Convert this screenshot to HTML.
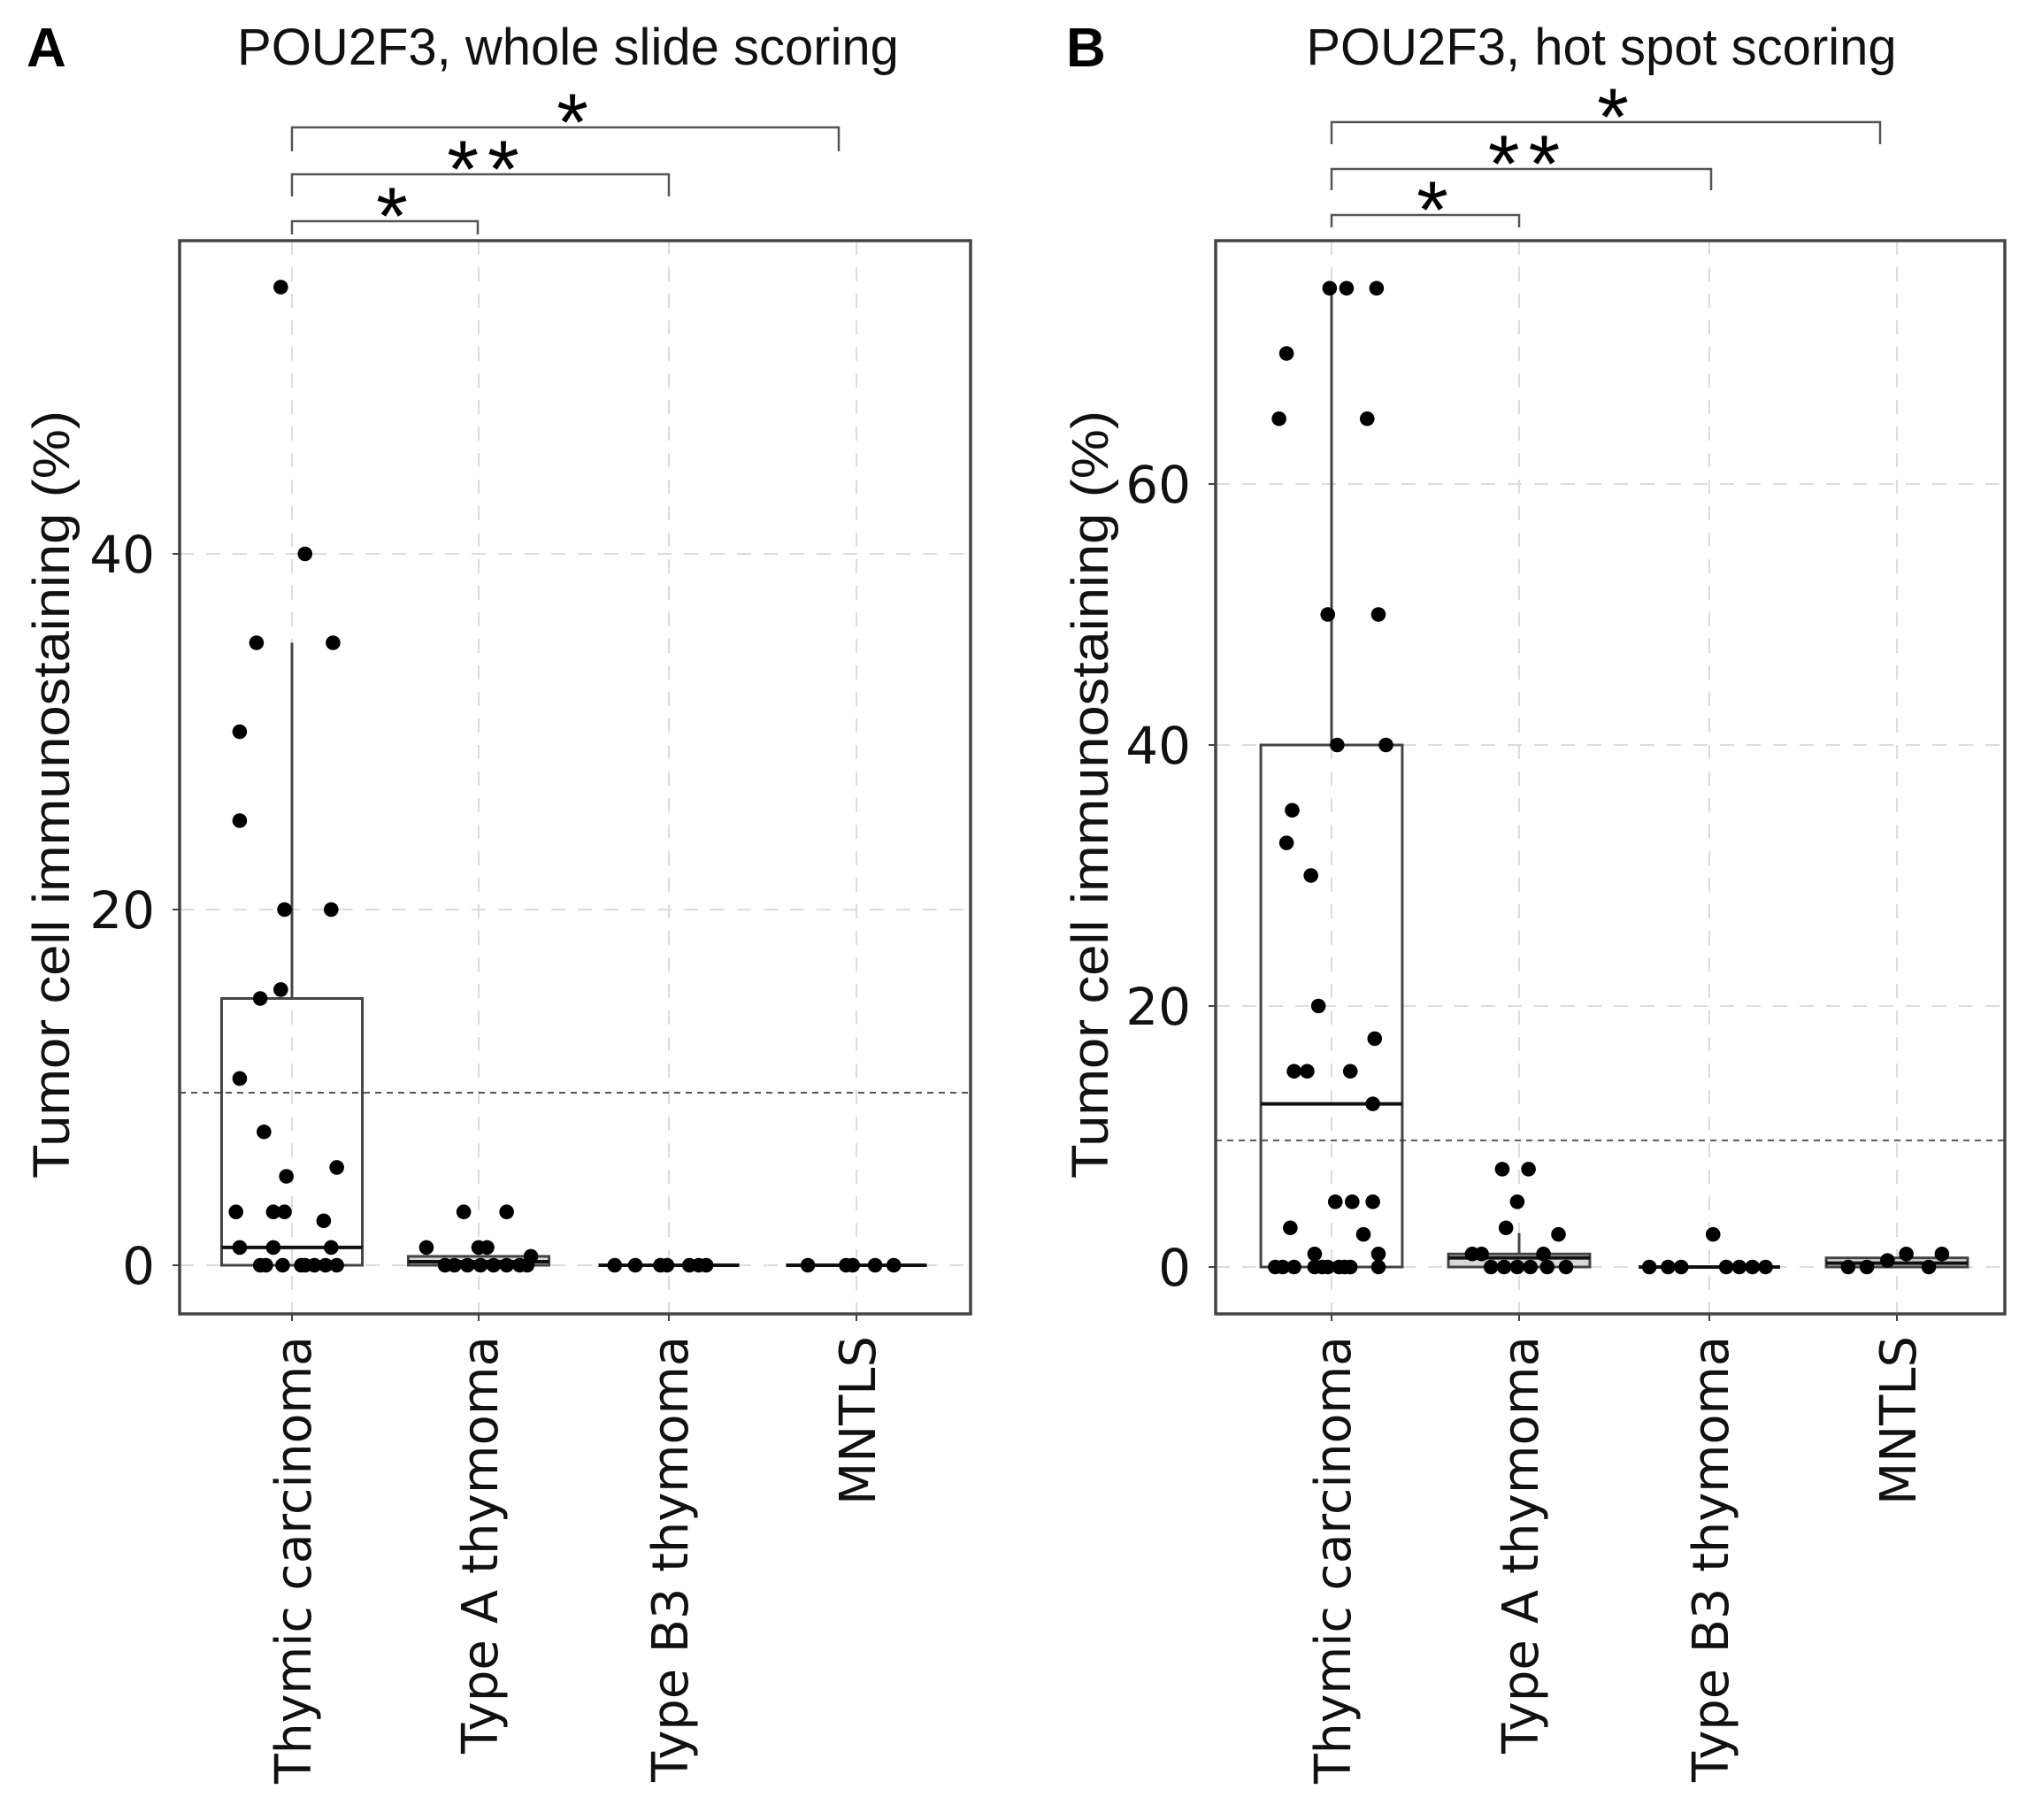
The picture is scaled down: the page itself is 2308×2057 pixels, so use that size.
<!DOCTYPE html>
<html><head><meta charset="utf-8"><style>
html,body{margin:0;padding:0;background:#fff;}
svg{display:block;}
</style></head><body>
<svg id="chart" width="2308" height="2057" viewBox="0 0 2308 2057" xmlns="http://www.w3.org/2000/svg"></svg>
<script>
// ---- data ----
const categories = ["Thymic carcinoma", "Type A thymoma", "Type B3 thymoma", "MNTLS"];
const yTicksA = [0, 20, 40];
const yTicksB = [0, 20, 40, 60];
const thresholdA = 9.7;
const thresholdB = 9.7;

// Panel A values (per category) and jitter (fraction of category spacing)
const aThymicVals = [55,40,35,35,30,25,20,20,15.5,15,10.5,7.5,5.5,5,3,3,3,2.5,1,1,1,0,0,0,0,0,0,0,0];
const aThymicJit  = [-0.06,0.07,-0.19,0.22,-0.28,-0.28,-0.04,0.21,-0.06,-0.17,-0.28,-0.15,0.24,-0.03,-0.30,-0.10,-0.04,0.17,-0.28,-0.10,0.21,-0.17,-0.14,-0.05,0.05,0.07,0.12,0.18,0.24];
const aTypeAVals = [3,3,1,1,1,0.5,0,0,0,0,0,0,0,0];
const aTypeAJit  = [-0.08,0.15,-0.28,0,0.045,0.28,-0.18,-0.13,-0.06,0.01,0.08,0.15,0.22,0.26];
const aTypeB3Vals = [0,0,0,0,0,0,0];
const aTypeB3Jit  = [-0.29,-0.18,-0.045,-0.01,0.11,0.16,0.2];
const aMntlsVals = [0,0,0,0,0];
const aMntlsJit  = [-0.26,-0.055,-0.02,0.1,0.2];
// box stats: [q1, median, q3, whiskerLow, whiskerHigh]
const aBoxes = [[0,1,15,0,35],[0,0.2,0.5,0,0.5],[0,0,0,0,0],[0,0,0,0,0]];

// Panel B
const bThymicVals = [75,75,75,70,65,65,50,50,40,40,35,32.5,30,20,17.5,15,15,15,12.5,5,5,5,3,2.5,1,1,0,0,0,0,0,0,0,0,0,0];
const bThymicJit  = [-0.01,0.08,0.24,-0.24,-0.28,0.19,-0.02,0.25,0.03,0.29,-0.21,-0.24,-0.11,-0.07,0.23,-0.2,-0.13,0.1,0.22,0.02,0.11,0.22,-0.22,0.17,-0.09,0.25,-0.3,-0.26,-0.2,-0.09,-0.05,-0.02,0.04,0.07,0.1,0.25];
const bTypeAVals = [7.5,7.5,5,3,2.5,1,1,1,0,0,0,0,0,0];
const bTypeAJit  = [-0.09,0.05,-0.01,-0.07,0.21,-0.25,-0.2,0.13,-0.15,-0.08,-0.01,0.06,0.15,0.25];
const bTypeB3Vals = [2.5,0,0,0,0,0,0,0];
const bTypeB3Jit  = [0.02,-0.32,-0.22,-0.15,0.09,0.16,0.23,0.3];
const bMntlsVals = [0,0,0.5,1,1,0];
const bMntlsJit  = [-0.26,-0.16,-0.05,0.05,0.24,0.17];
const bBoxes = [[0,12.5,40,0,75],[0,0.7,1,0,2.6],[0,0,0,0,0],[0,0.3,0.7,0,0.7]];

// significance brackets: [fromCat, toCat, label]
const sigBrackets = [[0,1,"*"],[0,2,"**"],[0,3,"*"]];

// ---- drawing ----
const NS = "http://www.w3.org/2000/svg";
const svg = document.getElementById("chart");
function el(tag, attrs, parent, text){
  const e = document.createElementNS(NS, tag);
  for (const k in attrs) e.setAttribute(k, attrs[k]);
  if (text !== undefined) e.textContent = text;
  (parent || svg).appendChild(e);
  return e;
}

const panels = [
  {key:"a", letter:"A", letterX:30, title:"POU2F3, whole slide scoring", titleX:642,
   L:203, R:1097, T:272, B:1485, y0px:1430, perUnit:20.1, yTicks:yTicksA, threshold:thresholdA,
   cx:[330,541,756,968], vals:[aThymicVals,aTypeAVals,aTypeB3Vals,aMntlsVals],
   jit:[aThymicJit,aTypeAJit,aTypeB3Jit,aMntlsJit], boxes:aBoxes,
   br:[{y:250,drop:15,r:540},{y:197,drop:25,r:756},{y:144,drop:27,r:948}],
   ytitleX:58},
  {key:"b", letter:"B", letterX:1205, title:"POU2F3, hot spot scoring", titleX:1810,
   L:1374, R:2266, T:272, B:1485, y0px:1432, perUnit:14.75, yTicks:yTicksB, threshold:thresholdB,
   cx:[1505,1717,1932,2144], vals:[bThymicVals,bTypeAVals,bTypeB3Vals,bMntlsVals],
   jit:[bThymicJit,bTypeAJit,bTypeB3Jit,bMntlsJit], boxes:bBoxes,
   br:[{y:243,drop:14,r:1717},{y:191,drop:24,r:1934},{y:138,drop:25,r:2125}],
   ytitleX:1232}
];

panels.forEach(p => {
  const g = el("g", {});
  
  
  const ys = v => p.y0px - v * p.perUnit;
  const spacing = p.cx[1] - p.cx[0];

  const lt = el("text", {x:p.letterX, y:75, "font-family":"Liberation Sans, sans-serif", "font-size":62, "font-weight":"bold", fill:"#000"}, g, p.letter);
  
  
  const tt = el("text", {x:p.titleX, y:73, "text-anchor":"middle", "font-family":"Liberation Sans, sans-serif", "font-size":58, fill:"#111"}, g, p.title);
  
  

  // gridlines
  p.yTicks.forEach(t => {
    const gl = el("line", {x1:p.L, x2:p.R, y1:ys(t), y2:ys(t), stroke:"#dcdcdc", "stroke-width":2, "stroke-dasharray":"16,14"}, g);
    
    
  });
  p.cx.forEach(x => {
    const gl = el("line", {x1:x, x2:x, y1:p.T, y2:p.B, stroke:"#dcdcdc", "stroke-width":2, "stroke-dasharray":"16,14"}, g);
    
    
  });

  // threshold
  const th = el("line", {x1:p.L, x2:p.R, y1:ys(p.threshold), y2:ys(p.threshold), stroke:"#555", "stroke-width":2, "stroke-dasharray":"7,6"}, g);
  
  

  // boxes
  p.boxes.forEach((b, i) => {
    const x = p.cx[i], hw = 0.377 * spacing;
    const bg = el("g", {}, g);
    
    
    el("line", {x1:x, x2:x, y1:ys(b[2]), y2:ys(b[4]), stroke:"#444", "stroke-width":3}, bg);
    el("line", {x1:x, x2:x, y1:ys(b[0]), y2:ys(b[3]), stroke:"#444", "stroke-width":3}, bg);
    const h = Math.max(ys(b[0]) - ys(b[2]), 0);
    el("rect", {x:x-hw, y:ys(b[2]), width:2*hw, height:h, fill:h>0 && h<20 ? "#d8d8d8" : "none", stroke:"#444", "stroke-width":3}, bg);
    el("line", {x1:x-hw, x2:x+hw, y1:ys(b[1]), y2:ys(b[1]), stroke:"#111", "stroke-width":4}, bg);
  });

  // points
  p.vals.forEach((arr, i) => {
    arr.forEach((v, j) => {
      const c = el("circle", {cx:p.cx[i] + p.jit[i][j] * spacing, cy:ys(v), r:8.3, fill:"#000"}, g);
      
      
    });
  });

  // frame
  const fr = el("rect", {x:p.L, y:p.T, width:p.R-p.L, height:p.B-p.T, fill:"none", stroke:"#444", "stroke-width":3.5}, g);
  
  

  // y ticks & labels
  p.yTicks.forEach(t => {
    el("line", {x1:p.L-8, x2:p.L, y1:ys(t), y2:ys(t), stroke:"#444", "stroke-width":2}, g);
    const lb = el("text", {x:p.L-28, y:ys(t)+21, "text-anchor":"end", "font-family":"DejaVu Sans, sans-serif", "font-size":58, fill:"#111"}, g, String(t));
    
    
  });
  // x ticks & labels
  const lens = [506, 472, 504, 191];
  categories.forEach((c, i) => {
    el("line", {x1:p.cx[i], x2:p.cx[i], y1:p.B, y2:p.B+8, stroke:"#444", "stroke-width":2}, g);
    const bx = p.cx[i] + 21, by = 1510;
    const lb = el("text", {x:bx, y:by, "text-anchor":"end", transform:`rotate(-90 ${bx} ${by})`, "font-family":"DejaVu Sans, sans-serif", "font-size":56, fill:"#111", textLength:lens[i], lengthAdjust:"spacingAndGlyphs"}, g, c);
    
    
  });

  // y axis title
  const yx = p.ytitleX + 20, yy = 898;
  const yt = el("text", {x:yx, y:yy, "text-anchor":"middle", transform:`rotate(-90 ${yx} ${yy})`, "font-family":"Liberation Sans, sans-serif", "font-size":58, fill:"#111", textLength:868, lengthAdjust:"spacingAndGlyphs"}, g, "Tumor cell immunostaining (%)");
  
  

  // brackets
  sigBrackets.forEach((s, k) => {
    const b = p.br[k];
    const l = p.cx[s[0]];
    const bg = el("g", {}, g);
    
    
    el("path", {d:`M${l},${b.y+b.drop} L${l},${b.y} L${b.r},${b.y} L${b.r},${b.y+b.drop}`, fill:"none", stroke:"#555", "stroke-width":2.5}, bg);
    const st = el("text", {x:(l+b.r)/2 + 8, y:b.y+26, "text-anchor":"middle", "font-family":"Liberation Sans, sans-serif", "font-size":92, fill:"#000", "letter-spacing": s[2].length > 1 ? "10" : "0"}, bg, s[2]);
    
    
  });
});
</script>
</body></html>
